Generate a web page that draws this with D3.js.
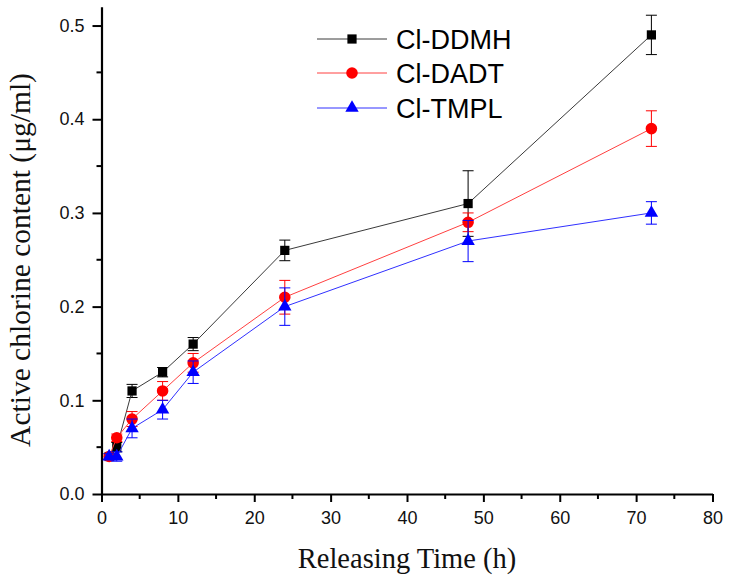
<!DOCTYPE html>
<html>
<head>
<meta charset="utf-8">
<script src="https://cdn.jsdelivr.net/npm/d3@7"></script>
<style>
  html, body { margin: 0; padding: 0; background: #fff; }
  svg { display: block; }
  .tick text { font-family: Arial, "Liberation Sans", sans-serif; font-size: 18px; fill: #111; }
  .axis-title { font-family: "Times New Roman", "Liberation Serif", serif; fill: #111; }
  .legend text { font-family: Arial, "Liberation Sans", sans-serif; font-size: 27px; fill: #000; }
</style>
</head>
<body>
<div id="chart"></div>
<script>
// Release times (h)
const times = [1, 2, 4, 8, 12, 24, 48, 72];

// Active chlorine content (ug/ml) and error bars
const ddmhValues = [0.04, 0.05, 0.11, 0.13, 0.16, 0.26, 0.31, 0.49];
const ddmhErrors = [0.003, 0.005, 0.007, 0.005, 0.007, 0.011, 0.035, 0.021];

const dadtValues = [0.04, 0.06, 0.08, 0.11, 0.14, 0.21, 0.29, 0.39];
const dadtErrors = [0.003, 0.004, 0.008, 0.01, 0.01, 0.018, 0.01, 0.019];

const tmplValues = [0.04, 0.04, 0.07, 0.09, 0.13, 0.20, 0.27, 0.30];
const tmplErrors = [0.003, 0.005, 0.01, 0.01, 0.012, 0.02, 0.022, 0.012];

const seriesNames = ['Cl-DDMH', 'Cl-DADT', 'Cl-TMPL'];
const xTicks = [0, 10, 20, 30, 40, 50, 60, 70, 80];
const yTicks = [0.0, 0.1, 0.2, 0.3, 0.4, 0.5];

const W = 731, H = 586;

const series = [
  { name: seriesNames[0], values: ddmhValues, errors: ddmhErrors, color: '#000000', line: '#3a3a3a', shape: 'square' },
  { name: seriesNames[1], values: dadtValues, errors: dadtErrors, color: '#ff0000', line: '#ff4040', shape: 'circle' },
  { name: seriesNames[2], values: tmplValues, errors: tmplErrors, color: '#0000ff', line: '#3030ff', shape: 'triangle' }
];

const svg = d3.select('#chart').append('svg')
  .attr('width', W)
  .attr('height', H);

const x = d3.scaleLinear().domain([0, 80]).range([101.5, 712.5]);
const y = d3.scaleLinear().domain([0, 0.52]).range([494, 6.8]);

// ── Axes ───────────────────────────────────────
const xAxis = svg.append('g')
  .attr('transform', `translate(0,${y(0)})`)
  .call(d3.axisBottom(x).tickValues(xTicks).tickFormat(d3.format('d'))
    .tickSize(8).tickPadding(9).tickSizeOuter(0));

// minor x ticks
xAxis.selectAll('line.minor')
  .data(d3.range(5, 80, 10))
  .enter().append('line')
  .attr('class', 'minor')
  .attr('x1', d => x(d)).attr('x2', d => x(d))
  .attr('y1', 0).attr('y2', 5)
  .attr('stroke', '#000').attr('stroke-width', 2);

const yAxis = svg.append('g')
  .attr('transform', `translate(${x(0)},0)`)
  .call(d3.axisLeft(y).tickValues(yTicks).tickFormat(d3.format('.1f'))
    .tickSize(9).tickPadding(8).tickSizeOuter(0));

yAxis.selectAll('line.minor')
  .data([0.05, 0.15, 0.25, 0.35, 0.45])
  .enter().append('line')
  .attr('class', 'minor')
  .attr('y1', d => y(d)).attr('y2', d => y(d))
  .attr('x1', 0).attr('x2', -5)
  .attr('stroke', '#000').attr('stroke-width', 2);

svg.selectAll('.domain').attr('stroke', '#000').attr('stroke-width', 2.2);
svg.selectAll('.tick line').attr('stroke', '#000').attr('stroke-width', 2);

// Axis titles
svg.append('text')
  .attr('class', 'axis-title')
  .attr('x', 407).attr('y', 568)
  .attr('text-anchor', 'middle')
  .style('font-size', '28.5px')
  .text('Releasing Time (h)');

svg.append('text')
  .attr('class', 'axis-title')
  .attr('transform', 'translate(30,260) rotate(-90)')
  .attr('text-anchor', 'middle')
  .style('font-size', '29.5px')
  .text('Active chlorine content (\u03bcg/ml)');

// ── Markers ───────────────────────────────────────
const symbolFor = {
  square: d3.symbol().type(d3.symbolSquare).size(85),
  circle: d3.symbol().type(d3.symbolCircle).size(105),
  triangle: d3.symbol().type(d3.symbolTriangle).size(78)
};

function drawMarker(sel, s) {
  sel.append('path')
    .attr('d', symbolFor[s.shape]())
    .attr('fill', s.color);
}

// ── Series ───────────────────────────────────────
const line = d3.line().x(d => x(d.t)).y(d => y(d.v));
const capW = 5.5;

series.forEach(s => {
  const pts = times.map((t, i) => ({ t, v: s.values[i], e: s.errors[i] }));
  const g = svg.append('g');

  // error bars
  const eb = g.selectAll('g.err').data(pts).enter().append('g')
    .attr('stroke', s.color).attr('stroke-width', 1);
  eb.append('line')
    .attr('x1', d => x(d.t)).attr('x2', d => x(d.t))
    .attr('y1', d => y(d.v + d.e)).attr('y2', d => y(d.v - d.e));
  eb.append('line')
    .attr('x1', d => x(d.t) - capW).attr('x2', d => x(d.t) + capW)
    .attr('y1', d => y(d.v + d.e)).attr('y2', d => y(d.v + d.e));
  eb.append('line')
    .attr('x1', d => x(d.t) - capW).attr('x2', d => x(d.t) + capW)
    .attr('y1', d => y(d.v - d.e)).attr('y2', d => y(d.v - d.e));

  g.append('path')
    .datum(pts)
    .attr('d', line)
    .attr('fill', 'none')
    .attr('stroke', s.line)
    .attr('stroke-width', 1);

  g.selectAll('g.pt').data(pts).enter().append('g')
    .attr('transform', d => `translate(${x(d.t)},${y(d.v)})`)
    .each(function() { drawMarker(d3.select(this), s); });
});

// ── Legend ───────────────────────────────────────
const legend = svg.append('g').attr('class', 'legend');
const rows = [39, 73, 108];
series.forEach((s, i) => {
  const r = legend.append('g').attr('transform', `translate(0,${rows[i]})`);
  r.append('line')
    .attr('x1', 317).attr('x2', 387).attr('y1', 0).attr('y2', 0)
    .attr('stroke', s.line).attr('stroke-width', 1);
  const m = r.append('g').attr('transform', 'translate(352,0)');
  drawMarker(m, s);
  r.append('text')
    .attr('x', 396).attr('y', 9.5)
    .text(s.name);
});
</script>
</body>
</html>
